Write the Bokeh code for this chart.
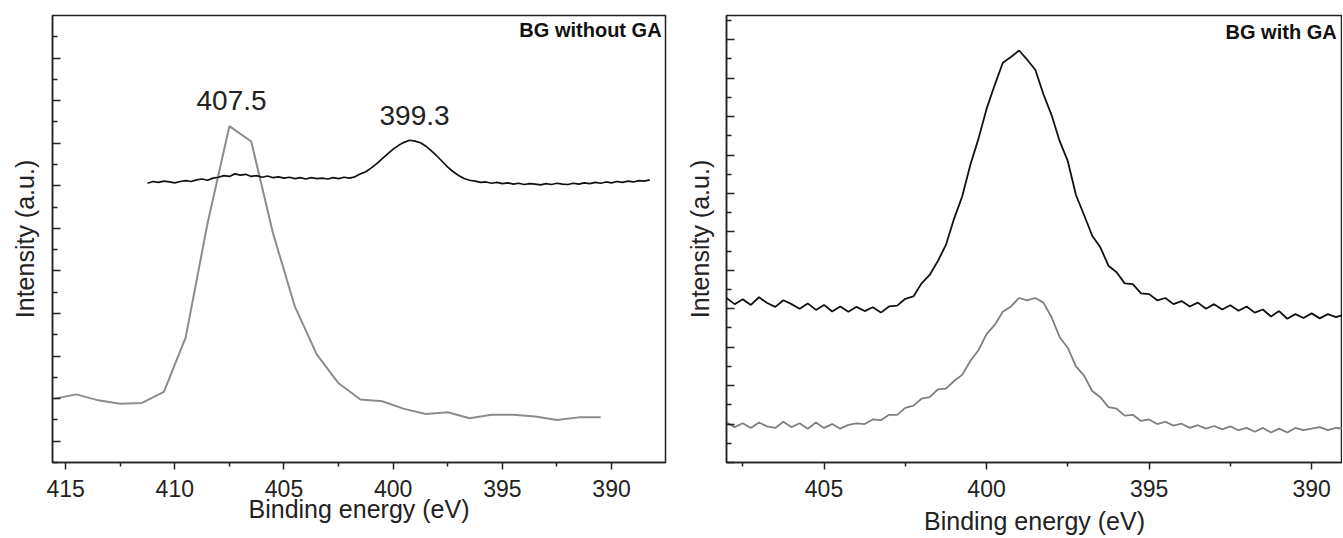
import numpy as np
from bokeh.plotting import figure
from bokeh.layouts import row
from bokeh.models import Range1d, FixedTicker, Label
from bokeh.embed import file_html
from bokeh.resources import INLINE

FONT = "Liberation Sans"

# ---------------- Left panel: BG without GA ----------------
left_gray_x = [415.5, 414.5, 413.5, 412.5, 411.5, 410.5, 409.5, 408.5, 407.5, 406.5,
               405.5, 404.5, 403.5, 402.5, 401.5, 400.5, 399.5, 398.5, 397.5, 396.5,
               395.5, 394.5, 393.5, 392.5, 391.5, 390.5]
left_gray_y = [1.00, 1.10, 0.96, 0.88, 0.90, 1.16, 2.44, 5.12, 7.40, 7.04,
               4.88, 3.16, 2.04, 1.36, 0.98, 0.94, 0.76, 0.64, 0.68, 0.54,
               0.62, 0.62, 0.58, 0.50, 0.56, 0.56]

left_black_x = np.arange(411.25, 388.24, -0.25)
left_black_y = [6.06, 6.10, 6.08, 6.11, 6.09, 6.07, 6.10, 6.12, 6.10, 6.14,
                6.16, 6.13, 6.18, 6.20, 6.24, 6.22, 6.28, 6.25, 6.27, 6.22,
                6.24, 6.20, 6.23, 6.19, 6.21, 6.18, 6.20, 6.17, 6.19, 6.16,
                6.19, 6.17, 6.18, 6.16, 6.19, 6.17, 6.20, 6.18, 6.21, 6.28,
                6.33, 6.42, 6.52, 6.64, 6.75, 6.86, 6.95, 7.02, 7.07, 7.05,
                7.01, 6.93, 6.82, 6.70, 6.57, 6.44, 6.33, 6.24, 6.17, 6.13,
                6.11, 6.08, 6.09, 6.06, 6.08, 6.05, 6.07, 6.04, 6.06, 6.03,
                6.05, 6.04, 6.02, 6.05, 6.03, 6.06, 6.04, 6.03, 6.06, 6.04,
                6.07, 6.05, 6.08, 6.06, 6.09, 6.07, 6.10, 6.08, 6.11, 6.09,
                6.12, 6.11, 6.14]

left_xticks = [415, 410, 405, 400, 395, 390]
left_xminor = [412.5, 407.5, 402.5, 397.5, 392.5, 387.5]
left_peak_labels = ["407.5", "399.3"]

# ---------------- Right panel: BG with GA ----------------
right_x = np.arange(408.0, 388.99, -0.25)
right_black_y = [4.28, 4.12, 4.25, 4.10, 4.30, 4.15, 4.05, 4.22, 4.12, 4.00,
                 4.14, 3.97, 4.10, 3.93, 4.06, 3.92, 4.05, 3.94, 4.04, 3.90,
                 4.06, 4.08, 4.26, 4.32, 4.66, 4.88, 5.24, 5.66, 6.34, 6.92,
                 7.74, 8.42, 9.20, 9.82, 10.40, 10.55, 10.72, 10.48, 10.22, 9.58,
                 9.04, 8.36, 7.84, 6.96, 6.44, 5.90, 5.60, 5.12, 4.95, 4.66,
                 4.64, 4.40, 4.38, 4.22, 4.28, 4.12, 4.20, 4.06, 4.16, 4.00,
                 4.12, 3.98, 4.09, 3.95, 4.06, 3.90, 3.98, 3.80, 3.94, 3.74,
                 3.86, 3.76, 3.88, 3.75, 3.86, 3.78, 3.85]
right_gray_y = [1.05, 0.92, 1.02, 0.90, 1.04, 0.94, 0.90, 1.06, 0.92, 1.02,
                0.88, 1.04, 0.90, 1.00, 0.88, 0.98, 1.02, 1.00, 1.12, 1.10,
                1.24, 1.24, 1.42, 1.48, 1.66, 1.70, 1.90, 1.92, 2.12, 2.28,
                2.64, 2.92, 3.34, 3.58, 3.92, 4.06, 4.28, 4.22, 4.28, 4.16,
                3.78, 3.26, 2.98, 2.50, 2.26, 1.86, 1.70, 1.44, 1.40, 1.22,
                1.24, 1.08, 1.12, 1.00, 1.06, 0.96, 1.01, 0.90, 0.97, 0.88,
                0.95, 0.86, 0.94, 0.84, 0.90, 0.80, 0.90, 0.78, 0.88, 0.78,
                0.90, 0.84, 0.88, 0.92, 0.84, 0.90, 0.88]

right_xticks = [405, 400, 395, 390]
right_xminor = [407.5, 402.5, 397.5, 392.5]


def style(p, ymajor, yminor, xmajor, xminor, xlabel_standoff, ylabel_standoff):
    p.xgrid.visible = False
    p.ygrid.visible = False
    p.outline_line_color = "#222222"
    p.outline_line_width = 1.5
    p.background_fill_color = "white"
    p.border_fill_color = "white"
    p.xaxis.ticker = FixedTicker(ticks=xmajor, minor_ticks=xminor)
    p.yaxis.ticker = FixedTicker(ticks=ymajor, minor_ticks=yminor)
    for ax in (p.xaxis[0], p.yaxis[0]):
        ax.axis_line_color = "#222222"
        ax.axis_line_width = 1.5
        ax.major_tick_line_color = "#222222"
        ax.minor_tick_line_color = "#222222"
        ax.major_tick_line_width = 1.5
        ax.minor_tick_line_width = 1.5
        ax.axis_label_text_font = FONT
        ax.axis_label_text_font_style = "normal"
        ax.axis_label_text_font_size = "25px"
        ax.axis_label_text_color = "#222222"
        ax.major_label_text_font = FONT
        ax.major_label_text_font_size = "23px"
        ax.major_label_text_color = "#222222"
    p.xaxis.major_tick_out = 7
    p.xaxis.major_tick_in = 0
    p.xaxis.minor_tick_out = 4
    p.xaxis.minor_tick_in = 0
    p.xaxis.major_label_standoff = 10
    p.xaxis.axis_label_standoff = xlabel_standoff
    p.yaxis.major_tick_in = 8
    p.yaxis.major_tick_out = 0
    p.yaxis.minor_tick_in = 5
    p.yaxis.minor_tick_out = 0
    p.yaxis.major_label_overrides = {t: "" for t in ymajor}
    p.yaxis.major_label_text_font_size = "1px"
    p.yaxis.major_label_standoff = 0
    p.yaxis.axis_label_standoff = ylabel_standoff


# Left figure
p1 = figure(width=680, height=537, output_backend="svg", toolbar_location=None,
            x_range=Range1d(415.6, 387.53), y_range=Range1d(-0.5, 10.0),
            min_border_left=52, min_border_right=15, min_border_top=13,
            min_border_bottom=72,
            x_axis_label="Binding energy (eV)", y_axis_label="Intensity (a.u.)")
p1.line(left_gray_x, left_gray_y, line_color="#8c8c8c", line_width=2)
p1.line(left_black_x, left_black_y, line_color="#111111", line_width=1.7)
style(p1, list(range(0, 10)), [v + 0.5 for v in range(-1, 10)],
      left_xticks, left_xminor, -5, 14)
p1.add_layout(Label(x=387.71, y=9.65, text="BG without GA", text_align="right",
                    text_baseline="alphabetic", text_font=FONT,
                    text_font_style="bold", text_font_size="20px",
                    text_color="#111111"))
p1.add_layout(Label(x=407.4, y=8.00, text=left_peak_labels[0], text_align="center",
                    text_baseline="alphabetic", text_font=FONT,
                    text_font_size="28px", text_color="#222222"))
p1.add_layout(Label(x=399.02, y=7.66, text=left_peak_labels[1], text_align="center",
                    text_baseline="alphabetic", text_font=FONT,
                    text_font_size="28px", text_color="#222222"))

# Right figure
p2 = figure(width=662, height=537, output_backend="svg", toolbar_location=None,
            x_range=Range1d(408.0, 389.05), y_range=Range1d(0.0, 11.63),
            min_border_left=46, min_border_right=0, min_border_top=15,
            min_border_bottom=66,
            x_axis_label="Binding energy (eV)", y_axis_label="Intensity (a.u.)")
p2.line(right_x, right_gray_y, line_color="#7f7f7f", line_width=1.8)
p2.line(right_x, right_black_y, line_color="#111111", line_width=1.8)
style(p2, list(range(0, 12)), [v + 0.5 for v in range(0, 12)],
      right_xticks, right_xminor, 7, 13)
p2.add_layout(Label(x=389.23, y=11.20, text="BG with GA", text_align="right",
                    text_baseline="alphabetic", text_font=FONT,
                    text_font_style="bold", text_font_size="20px",
                    text_color="#111111"))

layout = row(p1, p2)
open("out.html", "w").write(file_html(layout, INLINE))
